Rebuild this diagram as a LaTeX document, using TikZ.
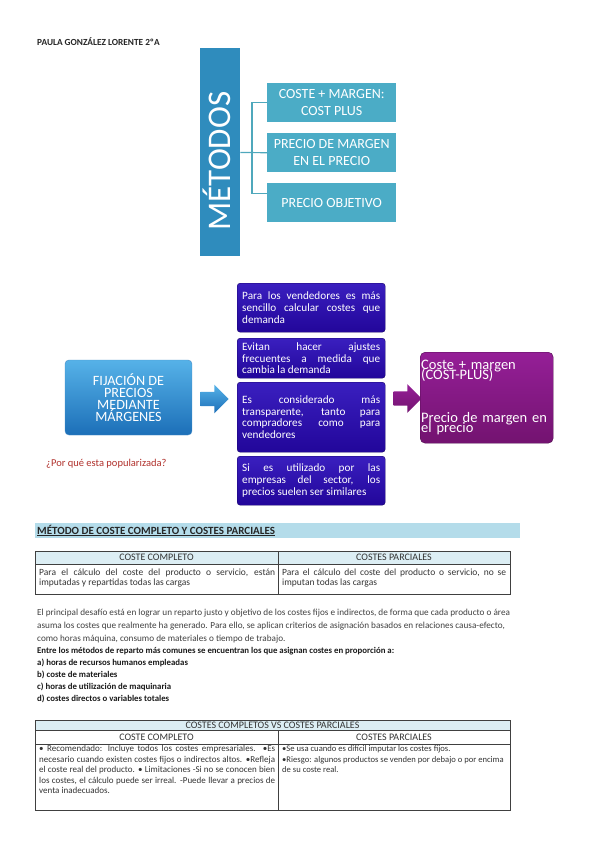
\documentclass[tikz,border=0pt]{standalone}
\usepackage{fontspec}
\setmainfont{Carlito}
\usetikzlibrary{shapes.arrows}
\hyphenpenalty=10000
\exhyphenpenalty=10000

\definecolor{metblue}{HTML}{2F8CBD}
\definecolor{metteal}{HTML}{4BACC6}
\definecolor{metline}{HTML}{4FA8BC}
\definecolor{fijtop}{HTML}{56B2E8}
\definecolor{fijbot}{HTML}{1C6FB8}
\definecolor{raztop}{HTML}{3A1FBF}
\definecolor{razbot}{HTML}{22069A}
\definecolor{magtop}{HTML}{951F97}
\definecolor{magbot}{HTML}{731370}
\definecolor{pregred}{HTML}{B0302B}
\definecolor{barblue}{HTML}{B4DCEA}
\definecolor{headblue}{HTML}{DCEEF4}
\definecolor{tabtext}{HTML}{333333}

\newcommand{\apretado}{\lineskiplimit=-\maxdimen}

\tikzset{
  metbox/.style={fill=metteal, text=white, minimum width=129pt, minimum height=39pt,
    inner sep=1pt, align=center, anchor=north west, font=\fontsize{14}{17}\selectfont},
  fijbox/.style={top color=fijtop, bottom color=fijbot, draw=fijbot!80!white, rounded corners=4pt,
    minimum width=127pt, minimum height=75pt, text=white, align=center,
    font=\fontsize{14.2}{12.2}\selectfont},
  razbox/.style={top color=raztop, bottom color=razbot, draw=razbot!70!black, rounded corners=3pt,
    text=white, text width=138pt, minimum width=148pt, inner xsep=5pt, align=justify,
    anchor=north west, font=\fontsize{11.2}{11.7}\selectfont},
  bloque/.style={single arrow, minimum width=28pt, minimum height=28pt,
    inner xsep=0pt, inner ysep=7pt, text height=0pt, text depth=0pt},
  tabline/.style={draw=black!75, line width=0.6pt},
  celltext/.style={text=tabtext, inner sep=0pt, anchor=north west, align=justify,
    font=\fontsize{9.5}{10}\selectfont},
  headtext/.style={text=tabtext, inner sep=0pt, font=\fontsize{10}{11}\selectfont},
}

\begin{document}
\begin{tikzpicture}[x=1pt, y=-1pt]
    \useasboundingbox (0,0) rectangle (599,848);
    \node[anchor=west, inner sep=0pt, text=black!85, font=\bfseries\fontsize{9.3}{10}\selectfont] (autora) at (37,42) {PAULA GONZÁLEZ LORENTE 2ºA};
    % Metodos: bar and three boxes
    \node[fill=metblue, anchor=north west, minimum width=40pt, minimum height=208pt, inner sep=0pt] (metbar) at (200,48) {};
    \node[rotate=90, text=white, inner sep=0pt, font=\fontsize{33}{33}\selectfont] (mettitulo) at (217,161) {MÉTODOS};
    \node[metbox] (costplus) at (267,83) {COSTE + MARGEN:\\COST PLUS};
    \node[metbox] (margprecio) at (267,133) {PRECIO DE MARGEN\\EN EL PRECIO};
    \node[metbox] (objetivo) at (267,183) {PRECIO OBJETIVO};
    \coordinate (nudo) at (252,152.5);
    \draw[metline, line width=1.2pt] (metbar.east |- nudo) -- (margprecio.west);
    \draw[metline, line width=1.2pt] (costplus.west) -| (nudo) |- ([yshift=9pt]objetivo.west);
    % Fijacion de precios: why it is popular
    \node[fijbox] (fijacion) at (128.5,397.5) {FIJACIÓN DE\\PRECIOS\\MEDIANTE\\MÁRGENES};
    \node[bloque, top color=fijtop, bottom color=fijbot] (flechaazul) at (211,399) {};
    \node[razbox, minimum height=49pt] (razon1) at (237,283) {Para los vendedores es más sencillo calcular costes que demanda};
    \node[razbox, minimum height=40pt] (razon2) at (237,338) {Evitan hacer ajustes frecuentes a medida que cambia la demanda};
    \node[razbox, minimum height=70pt] (razon3) at (237,382) {Es considerado más transparente, tanto para compradores como para vendedores};
    \node[razbox, minimum height=49pt] (razon4) at (237,456) {Si es utilizado por las\linebreak empresas del sector, los\linebreak precios suelen ser similares};
    \node[bloque, top color=magtop, bottom color=magbot] (flechamag) at (404,398.5) {};
    \node[anchor=north west, top color=magtop, bottom color=magbot, draw=magbot!70!black, rounded corners=5pt,
      minimum width=133pt, minimum height=91pt, text width=131pt, inner xsep=1pt, align=left, text=white,
      font=\fontsize{14.5}{10}\selectfont\apretado] (costemargen) at (420,352) {Coste + margen\\(COST-PLUS)\\[33pt]Precio de margen en\\el precio};
    \node[anchor=west, inner sep=0pt, text=pregred, font=\fontsize{10.5}{12}\selectfont] (pregunta) at (46,464) {¿Por qué esta popularizada?};
    % Metodo de coste completo y costes parciales
    \fill[barblue] (35,523) rectangle (520,538);
    \node[anchor=base west, inner sep=0pt, text=black!85, font=\bfseries\fontsize{11}{12}\selectfont] (seccion) at (37,534) {\underline{MÉTODO DE COSTE COMPLETO Y COSTES PARCIALES}};
    \fill[headblue] (35,551) rectangle (510,564);
    \draw[tabline] (35,551) rectangle (510,594);
    \draw[tabline] (35,564) -- (510,564);
    \draw[tabline] (278,551) -- (278,594);
    \node[headtext] (cchead) at (156.5,557.5) {COSTE COMPLETO};
    \node[headtext] (cphead) at (394,557.5) {COSTES PARCIALES};
    \node[celltext, text width=236pt] (ccbody) at (39,569) {Para el cálculo del coste del producto o servicio, están\linebreak imputadas y repartidas todas las cargas};
    \node[celltext, text width=224pt] (cpbody) at (282,569) {Para el cálculo del coste del producto o servicio, no se\linebreak imputan todas las cargas};
    % Reparto de costes
    \node[anchor=north west, inner sep=0pt, align=left, text=black!75, font=\fontsize{9.2}{13}\selectfont] (desafio) at (37,609) {El principal desafío está en lograr un reparto justo y objetivo de los costes fijos e indirectos, de forma que cada producto o área\\asuma los costes que realmente ha generado. Para ello, se aplican criterios de asignación basados en relaciones causa-efecto,\\como horas máquina, consumo de materiales o tiempo de trabajo.};
    \node[anchor=north west, inner sep=0pt, align=left, text=black!90, font=\bfseries\fontsize{8.8}{12}\selectfont] (reparto) at (37,647) {Entre los métodos de reparto más comunes se encuentran los que asignan costes en proporción a:\\a) horas de recursos humanos empleadas\\b) coste de materiales\\c) horas de utilización de maquinaria\\d) costes directos o variables totales};
    % Costes completos vs costes parciales
    \fill[headblue] (35,720) rectangle (510,730);
    \draw[tabline] (35,720) rectangle (510,810);
    \draw[tabline] (35,730) -- (510,730);
    \draw[tabline] (35,744) -- (510,744);
    \draw[tabline] (278,730) -- (278,810);
    \node[headtext] (vstitulo) at (272.5,725) {COSTES COMPLETOS VS COSTES PARCIALES};
    \node[headtext] (cchead2) at (156.5,737) {COSTE COMPLETO};
    \node[headtext] (cphead2) at (394,737) {COSTES PARCIALES};
    \node[celltext, text width=236pt, font=\fontsize{9}{10.5}\selectfont] (ccnotas) at (39,745.5) {• Recomendado: Incluye todos los costes empresariales. •Es\linebreak necesario cuando existen costes fijos o indirectos altos. •Refleja\linebreak el coste real del producto. • Limitaciones -Si no se conocen bien\linebreak los costes, el cálculo puede ser irreal. -Puede llevar a precios de\linebreak venta inadecuados.};
    \node[celltext, align=left, font=\fontsize{8.6}{10.5}\selectfont] (cpnotas) at (282,745.5) {•Se usa cuando es difícil imputar los costes fijos.\\•Riesgo: algunos productos se venden por debajo o por encima\\de su coste real.};
\end{tikzpicture}
\end{document}
